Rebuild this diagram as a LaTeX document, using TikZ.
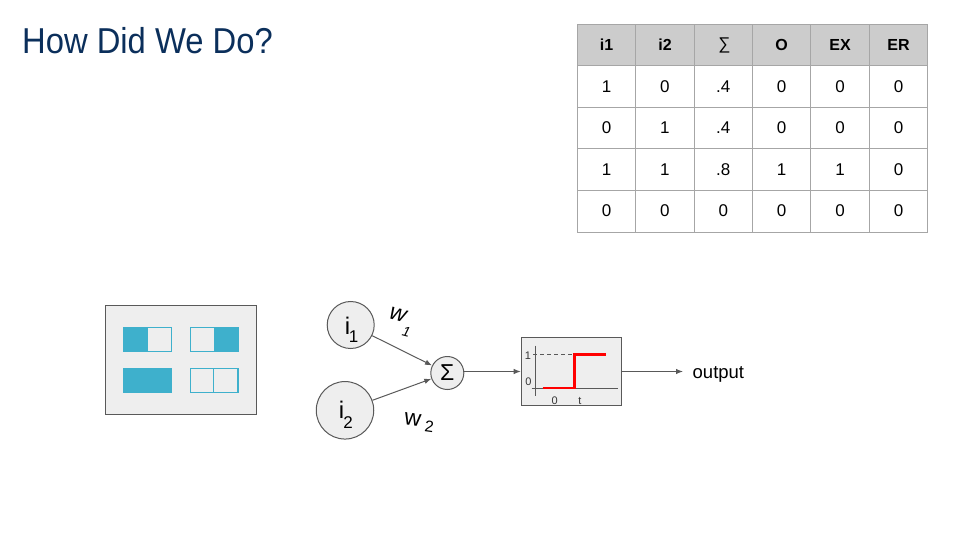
\documentclass[tikz,border=0pt]{standalone}
\usepackage{fontspec}
\setmainfont{Liberation Sans}
\usetikzlibrary{arrows.meta}
\definecolor{titleblue}{HTML}{0B2F5B}
\definecolor{linegray}{HTML}{595959}
\definecolor{panelgray}{HTML}{EEEEEE}
\definecolor{gridgray}{HTML}{A6A6A6}
\definecolor{headgray}{HTML}{CCCCCC}
\definecolor{teal}{HTML}{3EB0CC}
\tikzset{
  cell/.style={font=\fontsize{17}{17}\selectfont,inner sep=0pt},
  headcell/.style={cell,font=\fontsize{16}{16}\selectfont\bfseries},
  neuron/.style={circle,draw=linegray,fill=panelgray,line width=1pt,inner sep=0pt},
  panel/.style={draw=linegray,fill=panelgray,line width=1.1pt,inner sep=0pt},
  wire/.style={draw=linegray,line width=1pt,-{Latex[length=7pt,width=5.5pt]}},
  tick/.style={font=\fontsize{11}{11}\selectfont,text=linegray!60!black,inner sep=0pt}
}
\begin{document}
\begin{tikzpicture}[x=1pt,y=-1pt]
  \useasboundingbox (0,0) rectangle (960,540);
  \node[anchor=west,inner sep=0pt,text=titleblue,font=\fontsize{36}{36}\selectfont,xscale=.91] (title) at (22,41) {How Did We Do?};

  % table
  \fill[headgray] (577.5,24.5) rectangle (927.5,65.5);
  \foreach \x in {577.5,635.5,694.5,752.5,810.5,869.5,927.5} {
    \draw[gridgray,line width=1pt] (\x,24.5) -- (\x,232.5);
  }
  \foreach \y in {24.5,65.5,107.5,148.5,190.5,232.5} {
    \draw[gridgray,line width=1pt] (577.5,\y) -- (927.5,\y);
  }
  \foreach \x/\lab/\nam in {606.5/i1/a,665/i2/b,781.5/O/d,840/EX/e,898.5/ER/f} {
    \node[headcell] (head\nam) at (\x,45) {\lab};
  }
  \node[cell] (headc) at (724.5,45.5) {\char"2211};
  \foreach \y/\row [count=\r] in {87/{1,0,.4,0,0,0},128/{0,1,.4,0,0,0},170/{1,1,.8,1,1,0},211/{0,0,0,0,0,0}} {
    \foreach \lab [count=\c,evaluate=\c as \x using 548.1+58.4*\c] in \row {
      \node[cell] (cell\r\c) at (\x,\y) {\lab};
    }
  }

  % input patterns
  \node[panel,minimum width=151pt,minimum height=109pt] (patterns) at (181,359.8) {};
  \foreach \x/\y in {124/327.5,190.5/327.5,124/368.5,190.5/368.5} {
    \draw[teal,line width=1.1pt] (\x,\y) rectangle ++(47.5,24);
  }
  \fill[teal] (124,327.5) rectangle (147.7,351.5);
  \fill[teal] (213.5,327.5) rectangle (238,351.5);
  \fill[teal] (124,368.5) rectangle (171.5,392.5);
  \draw[teal,line width=1.1pt] (213.5,368.5) -- (213.5,392.5);

  % neuron
  \node[neuron,minimum size=47pt] (in1) at (350.7,325) {};
  \node[neuron,minimum size=57.5pt] (in2) at (345,410.3) {};
  \node[neuron,minimum size=33pt,font=\fontsize{23}{23}\selectfont] (sum) at (447.3,373) {\char"03A3};
  \node[inner sep=0pt,font=\fontsize{24}{24}\selectfont] (lab1) at (347.5,325.5) {i};
  \node[inner sep=0pt,font=\fontsize{17}{17}\selectfont] (sub1) at (353.5,336.5) {1};
  \node[inner sep=0pt,font=\fontsize{24}{24}\selectfont] (lab2) at (341.5,409.5) {i};
  \node[inner sep=0pt,font=\fontsize{17}{17}\selectfont] (sub2) at (348,422.5) {2};
  \node[inner sep=0pt,anchor=base west,rotate=-15,font=\fontsize{23}{23}\selectfont\itshape] (w1) at (388.2,318.7) {w\kern.4pt\raisebox{-13.2pt}{\fontsize{14}{14}\selectfont 1}};
  \node[inner sep=0pt,rotate=-8,font=\fontsize{23}{23}\selectfont] (w2) at (412.7,420) {w};
  \node[inner sep=0pt,rotate=-8,font=\fontsize{16}{16}\selectfont] (s2) at (429.3,426.5) {2};
  \draw[wire] (in1) -- (sum);
  \draw[wire] (in2) -- (sum);

  % step function
  \node[panel,minimum width=100.5pt,minimum height=67.5pt] (step1) at (571.5,371.5) {};
  \draw[wire] (sum.east |- step1) -- (step1);
  \coordinate (out) at (683,371.5);
  \draw[wire] (step1) -- (out);
  \node[anchor=west,inner sep=0pt,font=\fontsize{18.5}{18.5}\selectfont] (outlab) at (692.5,374.5) {output};
  \draw[linegray,line width=.8pt] (535.7,345.7) -- (535.7,396);
  \draw[linegray,line width=.8pt] (531.7,388.3) -- (618.3,388.3);
  \draw[linegray,line width=.7pt,dash pattern=on 4pt off 3pt] (533,354.3) -- (574,354.3);
  \draw[red,line width=2.4pt] (542.7,388) -- (574.3,388) -- (574.3,354.3) -- (606,354.3);
  \foreach \x/\y/\lab/\nam in {528/355.5/1/ya,528.5/382/0/yb,554.7/400.5/0/xa,580/400.5/t/xb} {
    \node[tick] (\nam) at (\x,\y) {\lab};
  }
\end{tikzpicture}
\end{document}
